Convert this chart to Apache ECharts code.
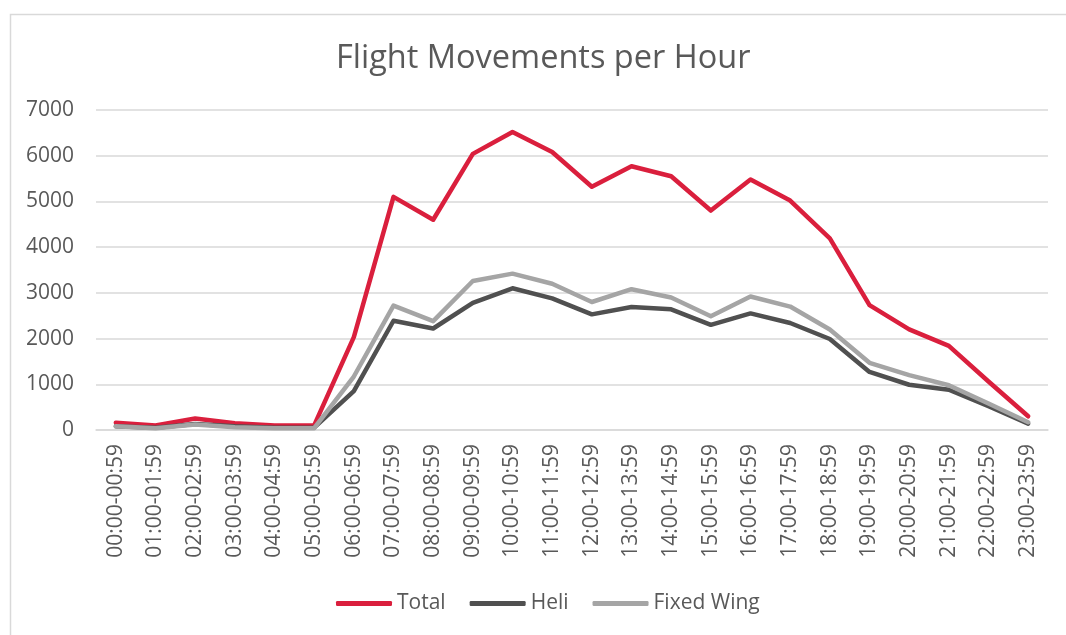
<!DOCTYPE html>
<html>
<head>
<meta charset="utf-8">
<script src="https://cdn.jsdelivr.net/npm/echarts@6/dist/echarts.min.js"></script>
<style>
  html, body { margin: 0; padding: 0; background: #fff; }
  #chart { width: 1066px; height: 635px; }
</style>
</head>
<body>
<div id="chart"></div>
<script>
const hours = [
  '00:00-00:59', '01:00-01:59', '02:00-02:59', '03:00-03:59', '04:00-04:59', '05:00-05:59',
  '06:00-06:59', '07:00-07:59', '08:00-08:59', '09:00-09:59', '10:00-10:59', '11:00-11:59',
  '12:00-12:59', '13:00-13:59', '14:00-14:59', '15:00-15:59', '16:00-16:59', '17:00-17:59',
  '18:00-18:59', '19:00-19:59', '20:00-20:59', '21:00-21:59', '22:00-22:59', '23:00-23:59'
]
const total = [160, 100, 250, 150, 100, 100, 2030, 5100, 4600, 6040, 6520, 6080,
  5320, 5770, 5550, 4800, 5480, 5020, 4190, 2730, 2200, 1840, 1060, 300]
const heli = [80, 50, 130, 80, 50, 50, 850, 2390, 2220, 2780, 3100, 2880,
  2530, 2690, 2640, 2300, 2550, 2340, 1990, 1270, 990, 880, 520, 140]
const fixedWing = [80, 40, 120, 60, 40, 40, 1170, 2720, 2380, 3260, 3420, 3200,
  2800, 3080, 2900, 2490, 2920, 2700, 2200, 1470, 1200, 980, 580, 170]
const yTicks = { min: 0, max: 7000, interval: 1000 }

const font = 'Open Sans'
const textColor = '#595959'
const gridColor = '#d9d9d9'

const chart = echarts.init(document.getElementById('chart'))

const lineSeries = (name, data, color) => ({
  name,
  type: 'line',
  data,
  symbol: 'none',
  lineStyle: { color, width: 4.5, join: 'round', cap: 'round' },
  itemStyle: { color },
  animation: false
})

chart.setOption({
  backgroundColor: '#fff',
  graphic: [{
    type: 'rect',
    left: 8,
    top: 12,
    shape: { width: 1080, height: 640 },
    style: { fill: 'none', stroke: gridColor, lineWidth: 1.5 },
    silent: true
  }],
  title: {
    text: 'Flight Movements per Hour',
    left: 331,
    top: 37,
    textStyle: {
      fontFamily: font,
      fontSize: 32.5,
      fontWeight: 'normal',
      color: textColor
    }
  },
  legend: {
    bottom: 16,
    left: 331,
    icon: 'roundRect',
    itemWidth: 56,
    itemHeight: 5,
    itemGap: 24,
    textStyle: {
      fontFamily: font,
      fontSize: 21,
      color: textColor
    },
    data: ['Total', 'Heli', 'Fixed Wing']
  },
  grid: {
    left: 96,
    right: 18,
    top: 110,
    bottom: 205
  },
  xAxis: {
    type: 'category',
    data: hours,
    boundaryGap: true,
    axisLine: { lineStyle: { color: gridColor, width: 1.5 } },
    axisTick: { show: false },
    axisLabel: {
      rotate: 90,
      interval: 0,
      margin: 14,
      fontFamily: font,
      fontSize: 21,
      color: textColor
    }
  },
  yAxis: {
    type: 'value',
    min: yTicks.min,
    max: yTicks.max,
    interval: yTicks.interval,
    axisLine: { show: false },
    axisTick: { show: false },
    axisLabel: {
      margin: 22,
      fontFamily: font,
      fontSize: 21,
      color: textColor,
      formatter: v => String(v)
    },
    splitLine: { lineStyle: { color: gridColor, width: 1.5 } }
  },
  series: [
    lineSeries('Total', total, '#da1f3d'),
    lineSeries('Heli', heli, '#505050'),
    lineSeries('Fixed Wing', fixedWing, '#a5a5a5')
  ]
})
</script>
</body>
</html>
